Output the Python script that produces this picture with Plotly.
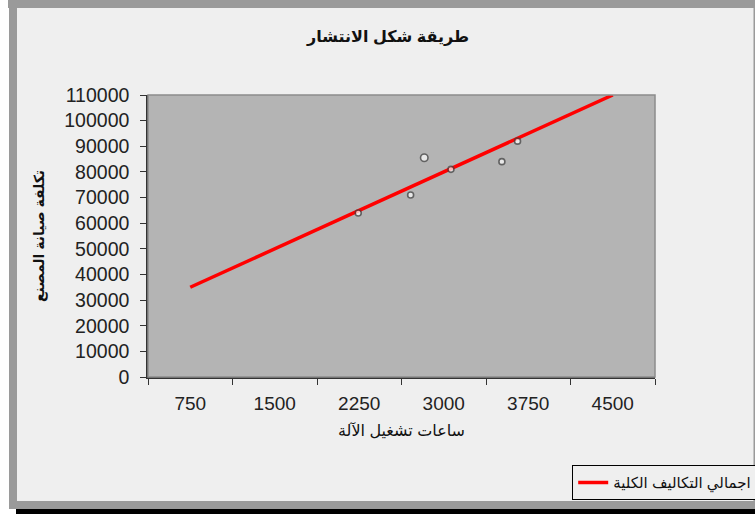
import plotly.graph_objects as go

# ---- data ----
hours_labels = [750, 1500, 2250, 3000, 3750, 4500]          # x tick labels
total_cost = [35000, 50000, 65000, 80000, 95000, 110000]   # line series (اجمالي التكاليف الكلية)
obs_hours = [2241, 2706, 2827, 3064, 3516, 3655]           # scatter observations
obs_cost = [64000, 71000, 85500, 81000, 84000, 92000]
y_ticks = list(range(0, 110001, 10000))

title_text = "طريقة شكل الانتشار"
x_title = "ساعات تشغيل الآلة"
y_title = "تكلفة صيانة المصنع"
legend_name = "اجمالي التكاليف الكلية"

W, H = 755, 514
L, R, T, B = 148, 100, 95, 137
PW, PH = W - L - R, H - T - B

def px(x):
    return (x - L) / PW

def py(y):
    return (H - B - y) / PH

FONT = "Liberation Sans, Arial, DejaVu Sans, sans-serif"

fig = go.Figure()
fig.add_trace(go.Scatter(
    x=hours_labels, y=total_cost, mode="lines", name=legend_name,
    line=dict(color="#ff0000", width=3.5), showlegend=True,
))
fig.add_trace(go.Scatter(
    x=obs_hours, y=obs_cost, mode="markers", showlegend=False,
    marker=dict(size=[6, 6, 7.5, 6, 6, 6], color="#ffffff",
                line=dict(color="#404040", width=1.6)),
))

shapes = [
    # window frame
    dict(type="rect", xref="paper", yref="paper", x0=px(17), x1=px(754), y0=py(501), y1=py(8),
         fillcolor="#efefef", line=dict(width=0), layer="below"),
    dict(type="rect", xref="paper", yref="paper", x0=px(8), x1=px(755), y0=py(8), y1=py(0),
         fillcolor="#9a9a9a", line=dict(width=0), layer="below"),
    dict(type="rect", xref="paper", yref="paper", x0=px(9), x1=px(17), y0=py(509), y1=py(8),
         fillcolor="#9a9a9a", line=dict(width=0), layer="below"),
    dict(type="rect", xref="paper", yref="paper", x0=px(9), x1=px(755), y0=py(509), y1=py(501),
         fillcolor="#9a9a9a", line=dict(width=0), layer="below"),
    dict(type="rect", xref="paper", yref="paper", x0=px(16), x1=px(755), y0=py(514), y1=py(509),
         fillcolor="#000000", line=dict(width=0), layer="below"),
    dict(type="rect", xref="paper", yref="paper", x0=px(753.5), x1=px(755), y0=py(501), y1=py(8),
         fillcolor="#9a9a9a", line=dict(width=0), layer="below"),
    # plot area fill
    dict(type="rect", xref="paper", yref="paper", x0=0, x1=1, y0=0, y1=1,
         fillcolor="#b4b4b4", line=dict(width=0), layer="below"),
    # plot area border (top/right gray)
    dict(type="rect", xref="paper", yref="paper", x0=0, x1=1, y0=0, y1=1,
         fillcolor="rgba(0,0,0,0)", line=dict(color="#8c8c8c", width=1.5), layer="above"),
]

fig.update_layout(
    width=W, height=H,
    margin=dict(l=L, r=R, t=T, b=B, pad=0, autoexpand=False),
    paper_bgcolor="#ffffff",
    plot_bgcolor="rgba(0,0,0,0)",
    font=dict(family=FONT, color="#222222", size=18),
    title=dict(text="<b>" + title_text + "</b>", x=388 / W, xanchor="center",
               y=1 - 36 / H, yanchor="middle",
               font=dict(family=FONT, size=16, color="#111111")),
    showlegend=True,
    legend=dict(x=px(572), y=py(465), xanchor="left", yanchor="top",
                bgcolor="#efefef", bordercolor="#000000", borderwidth=1.2,
                font=dict(family=FONT, size=15, color="#111111"),
                itemwidth=30, tracegroupgap=0),
    shapes=shapes,
)

fig.update_xaxes(
    range=[375, 4875],
    tickmode="array", tickvals=hours_labels, ticktext=[str(v) for v in hours_labels],
    ticks="", showgrid=False, zeroline=False,
    showline=True, linecolor="#333333", linewidth=1.5,
    minor=dict(tick0=375, dtick=750, ticks="outside", ticklen=6, tickcolor="#333333", tickwidth=1.2, showgrid=False),
    tickfont=dict(size=19, color="#222222"),
    ticklabelstandoff=8,
    title=dict(text=x_title, font=dict(size=16, color="#111111"), standoff=12),
)
fig.update_yaxes(
    range=[0, 110000],
    tickmode="array", tickvals=y_ticks, ticktext=[str(v) for v in y_ticks],
    ticks="outside", ticklen=6, tickcolor="#333333", tickwidth=1.2,
    showgrid=False, zeroline=False,
    showline=True, linecolor="#333333", linewidth=1.5,
    tickfont=dict(size=19.5, color="#222222"),
    ticklabelstandoff=7,
    title=dict(text="<b>" + y_title + "</b>", font=dict(size=14, color="#111111"), standoff=16),
)

fig.write_html("out.html", config={"displayModeBar": False},
               post_script="document.body.style.margin='0';document.body.style.padding='0';")
